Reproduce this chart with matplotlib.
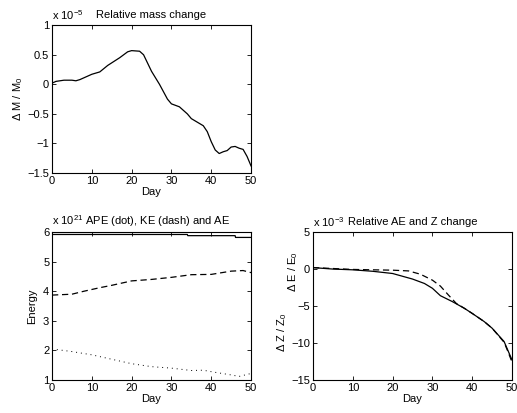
import matplotlib
matplotlib.use("Agg")
import matplotlib.pyplot as plt
import numpy as np

plt.rcParams['font.family'] = ['Liberation Sans', 'DejaVu Sans']
plt.rcParams['font.size'] = 8
plt.rcParams['axes.linewidth'] = 0.8
plt.rcParams['xtick.direction'] = 'in'
plt.rcParams['ytick.direction'] = 'in'
plt.rcParams['xtick.top'] = True
plt.rcParams['ytick.right'] = True
plt.rcParams['xtick.major.size'] = 3
plt.rcParams['ytick.major.size'] = 3
plt.rcParams['mathtext.fontset'] = 'custom'
plt.rcParams['mathtext.rm'] = 'Liberation Sans'
plt.rcParams['mathtext.it'] = 'Liberation Sans'

# relative mass change (x 1e-5)
mass_day = [0, 1, 3, 5, 6, 7, 10, 12, 14, 17, 19, 20, 22, 23, 25, 27, 29, 30, 32, 34,
            35, 37, 38, 39, 40, 41, 42, 43, 44, 45, 46, 47, 48, 49, 50]
mass = [0.02, 0.05, 0.07, 0.07, 0.06, 0.08, 0.17, 0.21, 0.32, 0.45, 0.55, 0.57, 0.56,
        0.5, 0.22, 0.0, -0.25, -0.33, -0.38, -0.5, -0.58, -0.66, -0.7, -0.8, -0.97,
        -1.11, -1.17, -1.14, -1.12, -1.06, -1.05, -1.08, -1.1, -1.22, -1.38]

# energies (x 1e21)
ae_day = [0, 34, 34.1, 46, 46.1, 50]
ae = [5.92, 5.92, 5.88, 5.88, 5.82, 5.82]
ke_day = [0, 5, 8, 12, 15, 20, 25, 30, 35, 40, 45, 48, 50]
ke = [3.87, 3.9, 4.0, 4.12, 4.2, 4.35, 4.4, 4.47, 4.56, 4.57, 4.68, 4.7, 4.63]
ape_day = [0, 5, 10, 15, 20, 25, 30, 35, 38, 40, 45, 47, 50]
ape = [2.05, 1.96, 1.85, 1.7, 1.55, 1.45, 1.4, 1.32, 1.33, 1.28, 1.17, 1.12, 1.22]

# relative AE and Z change (x 1e-3)
z_day = [0, 5, 10, 15, 20, 25, 28, 30, 32, 35, 38, 40, 43, 45, 48, 50]
z_rel = [0.2, 0.0, -0.1, -0.3, -0.6, -1.35, -1.95, -2.6, -3.6, -4.4, -5.3, -6.0,
         -7.1, -8.0, -9.8, -12.3]
e_day = [0, 10, 20, 24, 27, 30, 32, 34, 36, 38, 40, 43, 45, 48, 49, 50]
e_rel = [0.2, -0.05, -0.15, -0.25, -0.7, -1.5, -2.3, -3.5, -4.65, -5.3, -6.0, -7.1,
         -8.0, -9.9, -11.2, -12.6]

fig = plt.figure(figsize=(5.17, 4.13), dpi=100)
ax1 = fig.add_axes([0.1006, 0.581, 0.385, 0.358])
ax2 = fig.add_axes([0.1006, 0.080, 0.385, 0.358])
ax3 = fig.add_axes([0.6054, 0.080, 0.385, 0.358])

ax1.plot(mass_day, mass, color='black', linewidth=0.9)
ax1.set_xlim(0, 50)
ax1.set_ylim(-1.5, 1)
ax1.set_yticks([-1.5, -1, -0.5, 0, 0.5, 1])
ax1.set_yticklabels(['\u22121.5', '\u22121', '\u22120.5', '0', '0.5', '1'])
ax1.set_xlabel('Day', labelpad=1)
ax1.set_ylabel('$\\Delta$ M / M$_0$', labelpad=2)
ax1.set_title('Relative mass change', fontsize=8, pad=5)
ax1.text(0.0, 1.02, 'x 10$^{-5}$', transform=ax1.transAxes, ha='left', va='bottom')

ax2.plot(ae_day, ae, color='black', linewidth=0.9)
ax2.plot(ke_day, ke, color='black', linewidth=0.9, linestyle=(0, (5, 3)))
ax2.plot(ape_day, ape, color='black', linewidth=0.7, linestyle=(0, (1, 4)))
ax2.set_xlim(0, 50)
ax2.set_ylim(1, 6)
ax2.set_xlabel('Day', labelpad=1)
ax2.set_ylabel('Energy', labelpad=4)
ax2.text(0.0, 1.02, 'x 10$^{21}$ APE (dot), KE (dash) and AE',
         transform=ax2.transAxes, ha='left', va='bottom')

ax3.plot(z_day, z_rel, color='black', linewidth=0.9)
ax3.plot(e_day, e_rel, color='black', linewidth=0.9, linestyle=(0, (5, 3)))
ax3.set_xlim(0, 50)
ax3.set_ylim(-15, 5)
ax3.set_yticks([-15, -10, -5, 0, 5])
ax3.set_yticklabels(['\u221215', '\u221210', '\u22125', '0', '5'])
ax3.set_xlabel('Day', labelpad=1)
ax3.set_title('Relative AE and Z change', fontsize=8, pad=5)
ax3.text(0.0, 1.02, 'x 10$^{-3}$', transform=ax3.transAxes, ha='left', va='bottom')
ax3.text(-0.10, 0.73, '$\\Delta$ E / E$_0$', transform=ax3.transAxes,
         rotation=90, ha='center', va='center')
ax3.text(-0.155, 0.32, '$\\Delta$ Z / Z$_0$', transform=ax3.transAxes,
         rotation=90, ha='center', va='center')

for ax in (ax1, ax2, ax3):
    ax.set_xticks([0, 10, 20, 30, 40, 50])
    ax.tick_params(pad=2, width=0.6)

fig.savefig('out.png', dpi=100)
